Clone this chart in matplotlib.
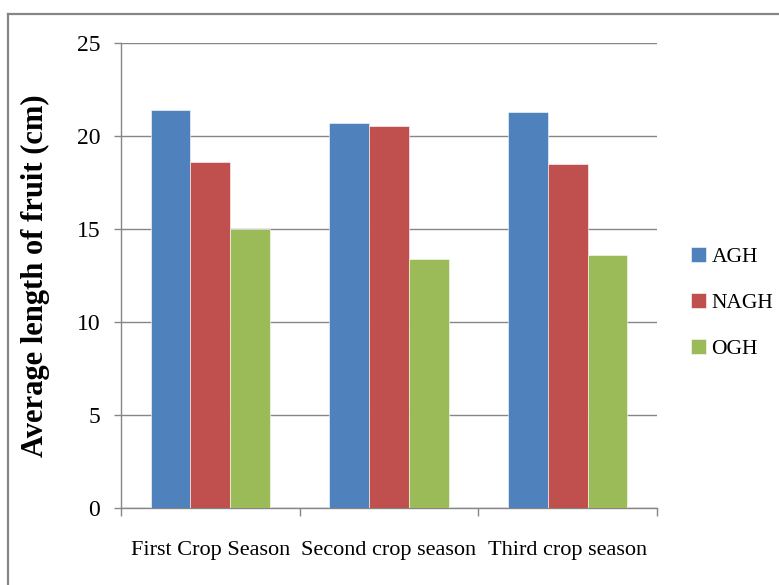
import matplotlib
matplotlib.use("Agg")
import matplotlib.pyplot as plt
from matplotlib.lines import Line2D

# chart values
seasons = ["First Crop Season", "Second crop season", "Third crop season"]
series_names = ["AGH", "NAGH", "OGH"]
agh = [21.4, 20.7, 21.3]
nagh = [18.6, 20.55, 18.5]
ogh = [15.0, 13.4, 13.6]
yticks = [0, 5, 10, 15, 20, 25]

colors = ["#4F81BD", "#C0504D", "#9BBB59"]
grey = "#868686"

plt.rcParams["font.family"] = ["Liberation Serif", "DejaVu Serif"]

W, H = 779, 585
fig = plt.figure(figsize=(W / 100, H / 100), dpi=100)

# outer chart border (cropped at right and bottom like the original)
fig.add_artist(Line2D([8 / W, 1.0], [1 - 14 / H, 1 - 14 / H], transform=fig.transFigure, color=grey, lw=1.6))
fig.add_artist(Line2D([8 / W, 8 / W], [0.0, 1 - 14 / H], transform=fig.transFigure, color=grey, lw=1.6))

left, right, top, bottom = 121, 657, 43, 508
ax = fig.add_axes([left / W, (H - bottom) / H, (right - left) / W, (bottom - top) / H])

bw = 1 / 4.5
x = range(len(seasons))
for i, (name, vals) in enumerate(zip(series_names, [agh, nagh, ogh])):
    ax.bar([p + (i - 1) * bw for p in x], vals, width=bw, color=colors[i],
           edgecolor="white", linewidth=0.4, label=name, zorder=3)

ax.set_xlim(-0.5, 2.5)
ax.set_ylim(0, 25)
ax.set_yticks(yticks)
ax.yaxis.grid(True, color=grey, linewidth=1.0, zorder=0)
ax.set_axisbelow(True)

for s in ["top", "right"]:
    ax.spines[s].set_visible(False)
for s in ["left", "bottom"]:
    ax.spines[s].set_color(grey)
    ax.spines[s].set_linewidth(1.0)

ax.tick_params(axis="y", direction="out", length=5, width=1, color=grey,
               labelsize=17, pad=10)
ax.set_xticks([-0.5, 0.5, 1.5, 2.5])
ax.set_xticklabels([])
ax.tick_params(axis="x", which="major", direction="out", length=6, width=1, color=grey)
ax.set_xticks(list(x), minor=True)
ax.set_xticklabels(seasons, minor=True)
ax.tick_params(axis="x", which="minor", length=0, labelsize=16, pad=24)

ax.set_ylabel("Average length of fruit (cm)", fontsize=22, fontweight="bold")
ax.yaxis.set_label_coords(-(left - 50) / (right - left), 0.5)

ax.legend(loc="center left", bbox_to_anchor=(676 / W, (H - 303) / H),
          bbox_transform=fig.transFigure, frameon=False, fontsize=15.5,
          handlelength=0.7, handleheight=0.7, handletextpad=0.25,
          labelspacing=1.2, borderpad=0.2)

fig.savefig("out.png", dpi=100)
